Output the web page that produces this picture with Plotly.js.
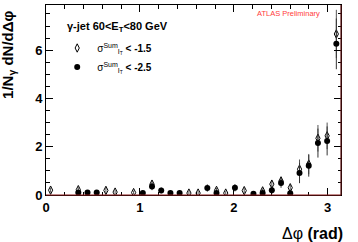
<!DOCTYPE html>
<html>
<head>
<meta charset="utf-8">
<script src="https://cdn.plot.ly/plotly-3.0.1.min.js"></script>
<style>html,body{margin:0;padding:0;background:#fff}#chart{width:358px;height:242px}</style>
</head>
<body>
<div id="chart"></div>
<script>
// bin centres of delta-phi (rad), 32 bins over 0..pi
var dphi = [0.049,0.147,0.245,0.344,0.442,0.540,0.638,0.736,0.834,0.933,1.031,1.129,1.227,1.325,1.423,1.522,
            1.620,1.718,1.816,1.914,2.012,2.111,2.209,2.307,2.405,2.503,2.601,2.700,2.798,2.896,2.994,3.092];
// sigma_sum < -1.5 (open diamonds)
var loose = [0.20,null,null,0.22,null,null,0.19,0.12,null,0.10,null,0.45,null,null,null,0.08,
             0.08,null,0.19,0.08,null,0.18,null,0.17,0.45,0.58,0.30,1.07,1.28,2.35,2.45,6.67];
var looseErr = [0.10,0,0,0.10,0,0,0.10,0.08,0,0.08,0,0.15,0,0,0,0.08,
                0.08,0,0.10,0.08,0,0.10,0,0.10,0.15,0.18,0.12,0.40,0.42,0.55,0.55,1.00];
// sigma_sum < -2.5 (filled circles)
var tight = [null,null,null,0.10,0.10,0.10,null,null,null,null,0.08,0.35,0.19,0.08,0.08,null,
             null,0.29,0.08,null,0.30,null,0.05,0.08,0.20,0.50,0.07,0.91,1.21,2.15,2.24,6.26];
var tightErr = [0,0,0,0.10,0.10,0.10,0,0,0,0,0.10,0.15,0.12,0.10,0.10,0,
                0,0.15,0.10,0,0.15,0,0.10,0.10,0.15,0.20,0.12,0.42,0.45,0.60,0.60,1.05];
var headerText = "<b>γ-jet 60&lt;E<sub>T</sub>&lt;80 GeV</b>";
var looseName = "σ<sup>Sum</sup><sub>I<sub>T</sub></sub> <b>&lt; -1.5</b>";
var tightName = "σ<sup>Sum</sup><sub>I<sub>T</sub></sub> <b>&lt; -2.5</b>";

var traces = [
  {x: dphi, y: loose, type: 'scatter', mode: 'markers', name: looseName,
   marker: {symbol: 'diamond-tall-open', size: 6, color: '#000', line: {width: 1, color: '#000'}},
   error_y: {type: 'data', array: looseErr, visible: true, width: 0, thickness: 1, color: '#555'}},
  {x: dphi, y: tight, type: 'scatter', mode: 'markers', name: tightName,
   marker: {symbol: 'circle', size: 6, color: '#000'},
   error_y: {type: 'data', array: tightErr, visible: true, width: 0, thickness: 1, color: '#333'}}
];

var bold = {family: 'Liberation Sans, Arial, sans-serif', size: 13, color: '#000', weight: 'bold'};
var layout = {
  width: 358, height: 242,
  margin: {l: 46, r: 17, t: 5, b: 47},
  paper_bgcolor: '#fff', plot_bgcolor: '#fff',
  showlegend: true,
  legend: {
    x: 0.038, y: 0.85, xanchor: 'left', yanchor: 'top',
    bgcolor: 'rgba(0,0,0,0)', borderwidth: 0,
    font: {family: 'Liberation Sans, Arial, sans-serif', size: 10, color: '#000'},
    itemwidth: 30, tracegroupgap: 0
  },
  xaxis: {
    range: [0, Math.PI], showgrid: false, zeroline: false,
    showline: true, linecolor: '#000', linewidth: 1, mirror: 'ticks',
    ticks: 'inside', ticklen: 7, tickcolor: '#000', dtick: 1, tick0: 0,
    minor: {dtick: 0.2, ticks: 'inside', ticklen: 3.5, tickcolor: '#000'},
    tickfont: bold
  },
  yaxis: {
    range: [0, 7.87], showgrid: false, zeroline: false,
    showline: true, linecolor: '#000', linewidth: 1, mirror: 'ticks',
    ticks: 'inside', ticklen: 7, tickcolor: '#000', dtick: 2, tick0: 0,
    minor: {dtick: 0.5, ticks: 'inside', ticklen: 3.5, tickcolor: '#000'},
    tickfont: bold
  },
  shapes: [
    {type: 'line', xref: 'paper', yref: 'paper', x0: 0, x1: 1, y0: 0, y1: 0, line: {color: '#8b1a1a', width: 1.2}},
    {type: 'line', xref: 'paper', yref: 'paper', x0: 1, x1: 1, y0: 0, y1: 1, line: {color: '#5a1010', width: 1.2}}
  ],
  annotations: [
    {text: headerText, xref: 'paper', yref: 'paper', x: 0.065, y: 0.885,
     xanchor: 'left', yanchor: 'middle', showarrow: false,
     font: {family: 'Liberation Sans, Arial, sans-serif', size: 11, color: '#000'}},
    {text: "1/N<sub>γ</sub> dN/dΔφ", xref: 'paper', yref: 'paper', x: -0.125, y: 0.98,
     xanchor: 'center', yanchor: 'top', textangle: -90, showarrow: false,
     font: {family: 'Liberation Sans, Arial, sans-serif', size: 15, color: '#000', weight: 'bold'}},
    {text: "Δφ <b>(rad)</b>", xref: 'paper', yref: 'paper', x: 1.015, y: -0.145,
     xanchor: 'right', yanchor: 'top', showarrow: false,
     font: {family: 'Liberation Sans, Arial, sans-serif', size: 16, color: '#000'}},
    {text: "ATLAS Preliminary", xref: 'paper', yref: 'paper', x: 0.935, y: 0.955,
     xanchor: 'right', yanchor: 'middle', showarrow: false,
     font: {family: 'Liberation Sans, Arial, sans-serif', size: 7.5, color: '#ff3b3b'}}
  ]
};
Plotly.newPlot('chart', traces, layout, {displayModeBar: false, staticPlot: true});
</script>
</body>
</html>
